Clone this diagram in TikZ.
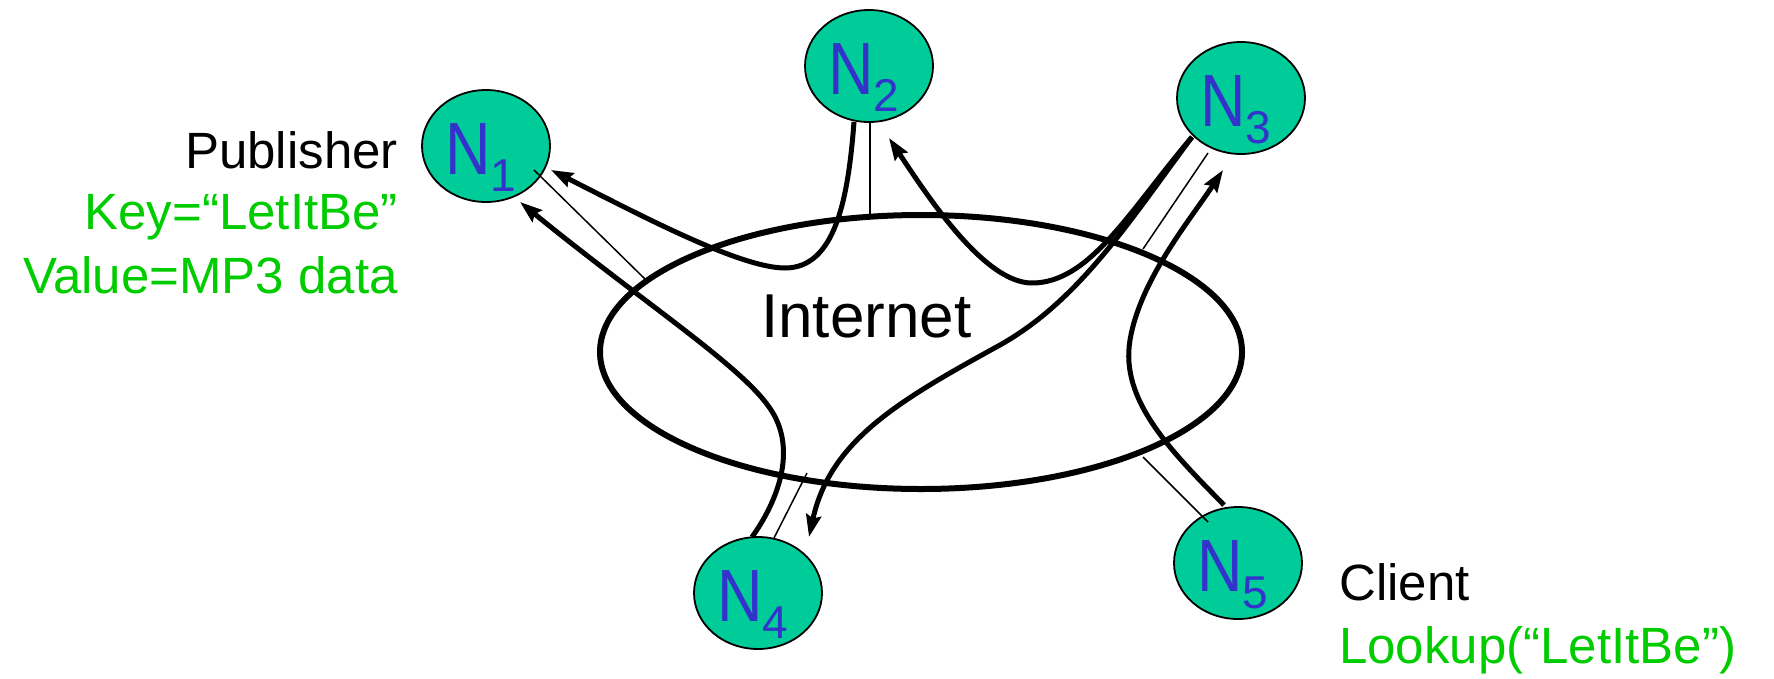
\documentclass[tikz,border=0pt]{standalone}
\usepackage{graphicx}
\usepackage{fontspec}
\setmainfont{Liberation Sans}
\usetikzlibrary{shapes.geometric,arrows.meta}
\definecolor{peerfill}{HTML}{00CC99}
\definecolor{peertext}{HTML}{3333CC}
\definecolor{keygreen}{HTML}{00CC00}
\newcommand{\peerlabel}[1]{\scalebox{0.85}[1]{\fontsize{74}{74}\selectfont N}\raisebox{-17pt}{\fontsize{46}{46}\selectfont #1}\kern10pt}
\begin{document}
\begin{tikzpicture}[x=1pt,y=-1pt,
  peer/.style={ellipse,draw,line width=1.8pt,fill=peerfill,text=peertext,
    minimum width=128pt,minimum height=112pt,inner sep=0pt,text height=56pt,text depth=0pt},
  net/.style={ellipse,draw,line width=6pt,minimum width=642pt,minimum height=274pt,inner sep=0pt},
  route/.style={line width=5pt,-{Stealth[length=22pt,width=15pt,inset=3pt]}},
  link/.style={line width=1.5pt},
  blk/.style={font=\fontsize{51}{62}\selectfont,inner sep=0pt},
  grn/.style={blk,text=keygreen},
  big/.style={font=\fontsize{62}{62}\selectfont,inner sep=0pt}]
\useasboundingbox (0,0) rectangle (1774,678);

\node[net] (inet) at (921,352) {};
\node[big,anchor=base west] (itxt) at (761,337) {Internet};

\node[peer] (n1) at (486,146) {\peerlabel{1}};
\node[peer] (n2) at (869,66) {\peerlabel{2}};
\node[peer] (n3) at (1241,98) {\peerlabel{3}};
\node[peer] (n4) at (758,593) {\peerlabel{4}};
\node[peer] (n5) at (1238,563) {\peerlabel{5}};

\node[blk,anchor=base east] (pub) at (398,168) {Publisher};
\node[grn,anchor=base east] (key) at (398,229) {Key=“LetItBe”};
\node[grn,anchor=base east] (val) at (398,293) {Value=MP3 data};
\node[blk,anchor=base west] (cli) at (1339,600) {Client};
\node[grn,anchor=base west] (look) at (1339,663) {Lookup(“LetItBe”)};

% thin attachment lines
\draw[link] ([shift={(48,24)}]n1.center) -- ([shift={(-275,-72)}]inet.center);
\draw[link] ([shift={(1,56)}]n2.center) -- ([shift={(-51,-135)}]inet.center);
\draw[link] ([shift={(-33,55)}]n3.center) -- ([shift={(222,-103)}]inet.center);
\draw[link] ([shift={(16,-55)}]n4.center) -- ([shift={(-114,121)}]inet.center);
\draw[link] ([shift={(-30,-41)}]n5.center) -- ([shift={(222,105)}]inet.center);

% routing curves
\draw[route] ([shift={(-15,56)}]n2.center) .. controls (848,200) and (835,268) .. (785,268)
  .. controls (740,268) and (640,215) .. ([shift={(65,24)}]n1.center);
\draw[route] ([shift={(-49,39)}]n3.center) .. controls (1130,210) and (1090,283) .. (1032,283)
  .. controls (985,283) and (930,200) .. ([shift={(20,72)}]n2.center);
\draw[route] ([shift={(-49,39)}]n3.center) .. controls (1130,220) and (1080,300) .. (1000,345)
  .. controls (900,400) and (830,440) .. ([shift={(51,-56)}]n4.center);
\draw[route] ([shift={(-6,-56)}]n4.center) .. controls (775,505) and (800,450) .. (769,407)
  .. controls (740,365) and (640,300) .. ([shift={(34,56)}]n1.center);
\draw[route] ([shift={(-14,-58)}]n5.center) .. controls (1170,450) and (1120,400) .. (1130,340)
  .. controls (1140,280) and (1190,220) .. ([shift={(-18,72)}]n3.center);
\end{tikzpicture}
\end{document}
